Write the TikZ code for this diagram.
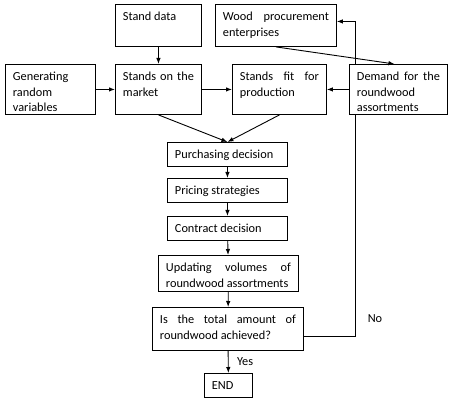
\documentclass[tikz,border=0pt]{standalone}
\usepackage{fontspec}
\setmainfont{Carlito}
\usetikzlibrary{arrows.meta}
\hyphenpenalty=10000
\tolerance=10000
\begin{document}
\begin{tikzpicture}[x=1pt, y=-1pt, line width=0.9pt,
        >={Latex[length=6pt, width=4.5pt]},
        font=\fontsize{12.3}{15.5}\selectfont,
        blk/.style={draw, rectangle, anchor=north west, align=justify,
            inner xsep=7.5pt, inner ysep=4pt, text height=12.5pt}]
        \useasboundingbox (0,0) rectangle (450,403);

        % nodes
        \node (data) [blk, text width=71pt, text depth=21.5pt] at (115,4) {Stand data};
        \node (wood) [blk, text width=106pt, text depth=21.5pt] at (215,4) {Wood procurement enterprises};
        \node (gen) [blk, text width=75pt, text depth=29.5pt] at (5,64) {Generating random variables};
        \node (market) [blk, text width=71pt, text depth=29.5pt] at (115,64) {Stands on the market};
        \node (fit) [blk, text width=79pt, text depth=29.5pt] at (232,64) {Stands fit for production};
        \node (demand) [blk, text width=83pt, text depth=29.5pt] at (349,64) {Demand for the\linebreak roundwood assortments};
        \node (purch) [blk, text width=105pt, text depth=3.5pt] at (167,142) {Purchasing decision};
        \node (price) [blk, text width=105pt, text depth=3.5pt] at (167,178) {Pricing strategies};
        \node (contract) [blk, text width=105pt, text depth=3.5pt] at (167,216) {Contract decision};
        \node (update) [blk, text width=125pt, text depth=15.5pt] at (158,255) {Updating volumes of roundwood assortments};
        \node (check) [blk, text width=136pt, text depth=22.5pt] at (152,307) {Is the total amount of roundwood achieved?};
        \node (finish) [blk, text width=33pt, text depth=3.5pt] at (204,373) {END};

        % edges
        \draw[->] (data) -- (market);
        \draw[->] (gen) -- (market);
        \draw[->] (market) -- (fit);
        \draw[->] (demand) -- (fit);
        \draw[->] (wood.south) -- ([xshift=-4pt]demand.north);
        \draw[->] ([xshift=6pt]demand.north west) |- ([yshift=4pt]wood.east);
        \draw[->] (market.south) -- (purch.north);
        \draw[->] (fit.south) -- (purch.north);
        \draw[->] (purch) -- (price);
        \draw[->] (price) -- (contract);
        \draw[->] (contract) -- (update);
        \draw[->] (update) -- (check);

        % label
        \draw[->] (check) -- node[right=5pt] {Yes} (finish);
        \draw ([yshift=-7.5pt]check.east) -| node[pos=0.54, right=9pt] {No} ([xshift=6pt]demand.south west);
    \end{tikzpicture}
\end{document}
